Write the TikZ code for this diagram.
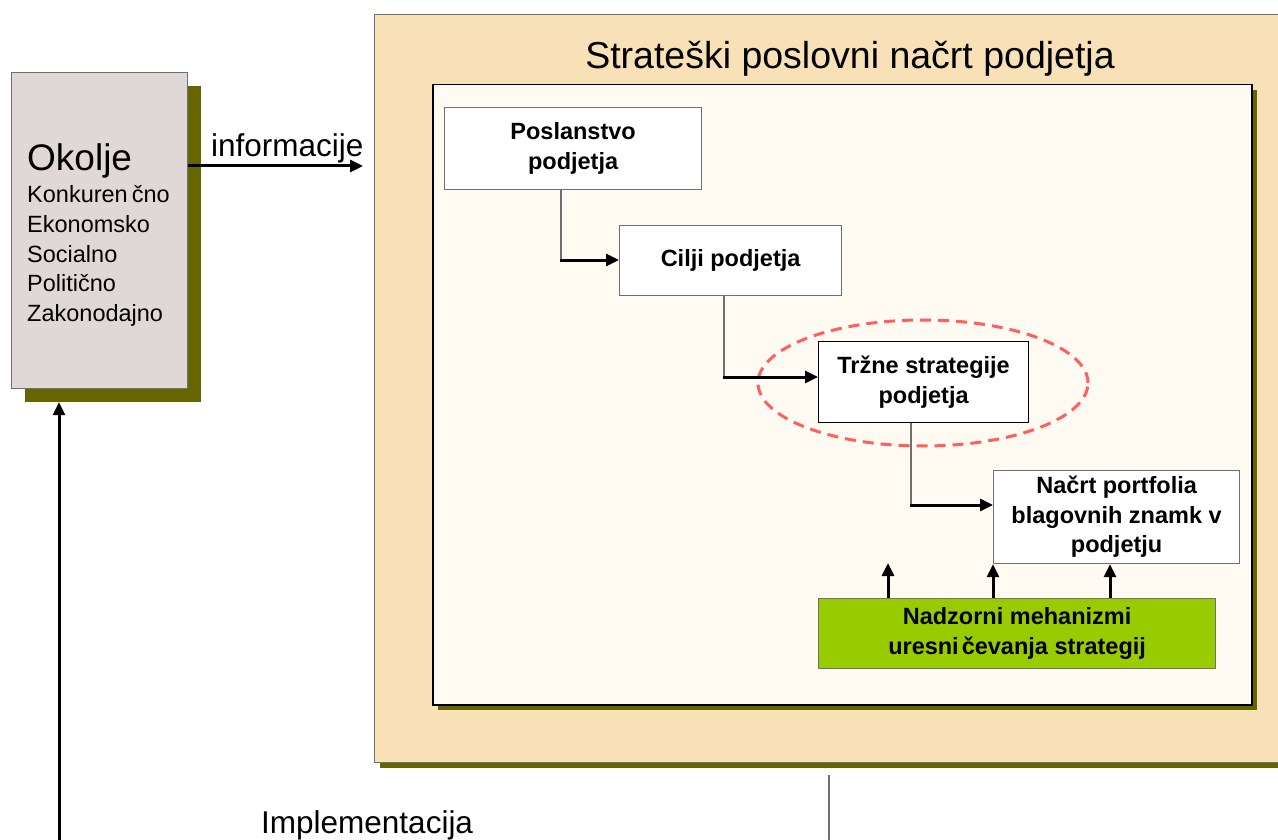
\documentclass[tikz,border=0pt]{standalone}
\usepackage{fontspec}
\setmainfont{Liberation Sans}
\usetikzlibrary{arrows.meta,shadows,shapes.geometric}
\definecolor{planfill}{HTML}{F8E1B6}
\definecolor{panelfill}{HTML}{FFFBF3}
\definecolor{shadowolive}{HTML}{666600}
\definecolor{envfill}{HTML}{E0D8D6}
\definecolor{ctrlgreen}{HTML}{99CC00}
\definecolor{focusred}{HTML}{FF5F5F}
\definecolor{edgegray}{HTML}{707070}
\begin{document}
\begin{tikzpicture}[x=1pt,y=-1pt,
  shadowed/.style={drop shadow={shadow xshift=#1, shadow yshift=-#1,
      fill=shadowolive, opacity=1}},
  block/.style={draw=edgegray, line width=1.2pt, fill=white, anchor=north west,
      align=center, inner sep=2pt,
      font=\fontsize{23.5}{29.5}\selectfont\bfseries},
  link/.style={draw=edgegray, line width=1.5pt},
  flow/.style={draw=black, line width=3pt,
      -{Triangle[length=13pt,width=12pt]}},
  label/.style={inner sep=0pt, anchor=base west}]
\clip (0,0) rectangle (1278,840);

% environment block on the left
\node[draw=edgegray, line width=1.2pt, fill=envfill, anchor=north west,
      minimum width=176pt, minimum height=316pt, inner sep=0pt,
      shadowed=13pt] (okolje) at (11,72) {};
\node[label, font=\fontsize{37}{40}\selectfont] (okt) at (27,171) {Okolje};
\foreach \name/\txt [count=\i from 0] in {k1/Konkuren\kern4pt čno, k2/Ekonomsko,
    k3/Socialno, k4/Politično, k5/Zakonodajno}
  \node[label, font=\fontsize{23.5}{26}\selectfont] (\name) at (27,203+29.5*\i) {\txt};

% strategic plan frame
\node[draw=edgegray, line width=1.2pt, fill=planfill, anchor=north west,
      minimum width=930pt, minimum height=748pt, inner sep=0pt,
      shadowed=5pt] (plan) at (374,14) {};
\node[inner sep=0pt, anchor=base, font=\fontsize{37.5}{40}\selectfont]
      (title) at (850,69) {Strateški poslovni načrt podjetja};
\node[draw=black, line width=1.5pt, fill=panelfill, anchor=north west,
      minimum width=819pt, minimum height=620pt, inner sep=0pt,
      shadowed=5pt] (panel) at (432,84) {};

% planning steps
\node[block, minimum width=257pt, minimum height=82pt] (posl) at (444,107)
      {Poslanstvo\\podjetja};
\node[block, minimum width=222pt, minimum height=70pt] (cilji) at (619,225)
      {Cilji podjetja};
\node[block, draw=black, minimum width=210pt, minimum height=81pt] (trz) at (818,341)
      {Tržne strategije\\podjetja};
\node[block, minimum width=246pt, minimum height=93pt] (nacrt) at (993,470)
      {Načrt portfolia\\blagovnih znamk v\\podjetju};
\node[block, fill=ctrlgreen, minimum width=397pt, minimum height=70pt] (nadz) at (818,598)
      {Nadzorni mehanizmi\\uresni\kern3pt čevanja strategij};

% highlight around market strategies
\node[ellipse, draw=focusred, line width=3pt, dash pattern=on 11pt off 7pt,
      minimum width=330pt, minimum height=126pt, inner sep=0pt] (focus) at (923,383) {};

% step connectors
\coordinate (c1) at (561,260);
\coordinate (c2) at (724,377);
\coordinate (c3) at (911,505);
\draw[link] (posl.south -| c1) -- (c1);
\draw[flow] ([xshift=-1.5pt]c1) -- (cilji.west |- c1);
\draw[link] (cilji.south -| c2) -- (c2);
\draw[flow] ([xshift=-1.5pt]c2) -- (trz.west |- c2);
\draw[link] (trz.south -| c3) -- (c3);
\draw[flow] ([xshift=-1.5pt]c3) -- (nacrt.west |- c3);

% control feedback arrows
\coordinate (u1) at (888,563);
\coordinate (u3) at (1110,563);
\draw[flow] (nadz.north -| u1) -- (u1);
\draw[flow] (nadz.north -| nacrt.south west) -- (nacrt.south west);
\draw[flow] (nadz.north -| u3) -- (nacrt.south -| u3);

% information flow from the environment
\draw[flow, shorten >=11pt] (okolje.east |- 0,166) -- (plan.west |- 0,166);
\node[label, font=\fontsize{31.5}{34}\selectfont] (info) at (211,157) {informacije};

% implementation loop
\coordinate (implstart) at (59,845);
\draw[flow] (implstart) -- ([yshift=-13pt]okolje.south -| implstart);
\coordinate (planout) at (829,775);
\coordinate (planoutend) at (829,845);
\draw[link] (planout) -- (planoutend);
\node[label, font=\fontsize{31.5}{34}\selectfont] (impl) at (261,833) {Implementacija};
\end{tikzpicture}
\end{document}
